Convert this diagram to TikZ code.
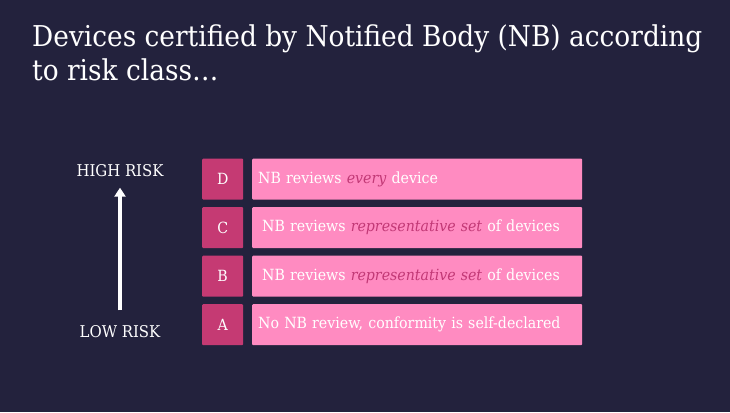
\documentclass[tikz,border=0pt]{standalone}
\usepackage{fontspec}
\setmainfont{DejaVu Serif}[FakeStretch=0.92]
\usepackage{xcolor}
\usetikzlibrary{arrows.meta}
\definecolor{bgnavy}{HTML}{23223D}
\definecolor{darkpink}{HTML}{C53A73}
\definecolor{lightpink}{HTML}{FF8BC1}
\definecolor{emphpink}{HTML}{C23976}
\newcommand{\hl}[1]{\textcolor{emphpink}{\textit{#1}}}

\begin{document}
\begin{tikzpicture}[x=1pt,y=-1pt,
	class node/.style={draw=none, fill=darkpink, rounded corners=1pt, minimum width=41pt, minimum height=41pt, anchor=north west, text=white, font=\fontsize{15.4}{18}\selectfont},
	desc node/.style={draw=none, fill=lightpink, rounded corners=1pt, minimum height=41pt, text width=330pt-2*#1, inner xsep=#1, anchor=north west, align=left, text=white, font=\fontsize{15.4}{18}\selectfont},
	desc node/.default=6pt,
	risk node/.style={text=white, font=\fontsize{16.2}{18}\selectfont}]
			% background
			\fill[bgnavy] (0,0) rectangle (730,412);
			\useasboundingbox (0,0) rectangle (730,412);
			
			% Title
			\node[anchor=base west, inner sep=0, text=white, font=\fontsize{28.7}{36}\selectfont] (t1) at (32,46) {Devices certified by Notified Body (NB) according};
			\node[anchor=base west, inner sep=0, text=white, font=\fontsize{28.7}{36}\selectfont] (t2) at (32,81) {to risk class\dots};
			
			% Nodes
			\node[class node] (D) at (202,158.5) {D};
			\node[class node] (C) at (202,207) {C};
			\node[class node] (B) at (202,255.5) {B};
			\node[class node] (A) at (202,304) {A};
			
			\node[desc node] (dD) at (252,158.5) {NB reviews \hl{every} device};
			\node[desc node=10pt] (dC) at (252,207) {NB reviews \hl{representative set} of devices};
			\node[desc node=10pt] (dB) at (252,255.5) {NB reviews \hl{representative set} of devices};
			\node[desc node] (dA) at (252,304) {No NB review, conformity is self-declared};
			
			\node[risk node] (high) at (120,171) {HIGH RISK};
			\node[risk node] (low) at (120,332) {LOW RISK};
			
			\draw[-{Triangle[width=11pt,length=9pt]}, line width=4pt, white, shorten <=12pt, shorten >=7pt] (low) -- (high);
			
		\end{tikzpicture}
\end{document}
